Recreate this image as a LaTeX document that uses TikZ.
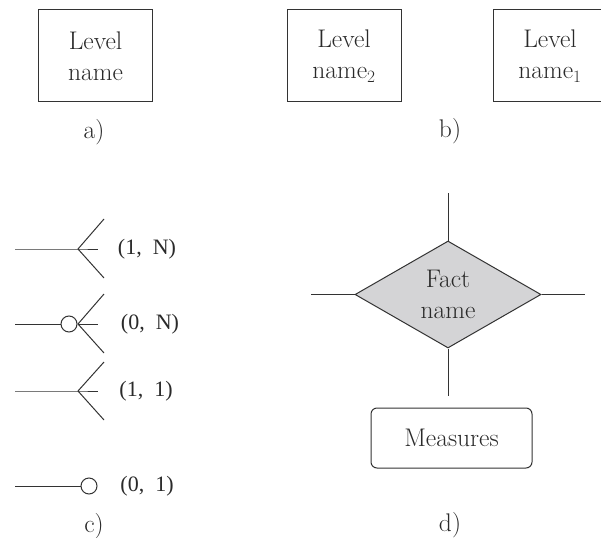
\documentclass[tikz,border=0pt]{standalone}
\usepackage{fontspec}
\usetikzlibrary{shapes.geometric}
\newfontfamily\cardfam{Liberation Serif}
\definecolor{ln}{HTML}{333333}
\definecolor{fillg}{HTML}{D4D4D6}
\definecolor{txt}{HTML}{2A2A2A}
\newcommand{\mainsz}{\fontsize{25.5}{31}\selectfont}
\newcommand{\cardsz}{\cardfam\fontsize{22}{26}\selectfont}
\begin{document}
\begin{tikzpicture}[x=1pt,y=-1pt,line width=1pt,
  lvl/.style={draw=ln, line width=1pt, minimum width=114pt, minimum height=92pt, inner sep=0pt, align=center, font=\mainsz, text=txt},
  lbl/.style={font=\mainsz, text=txt, inner sep=0pt},
  card/.style={font=\cardsz, text=txt, inner sep=0pt},
  ring/.style={circle, draw=ln, line width=1pt, minimum size=16pt, inner sep=0pt},
  wire/.style={draw=ln, line width=1pt},
  fact/.style={diamond, draw=ln, fill=fillg, line width=1pt, aspect=1.74, minimum width=186pt, minimum height=107pt, inner sep=0pt, align=center, font=\mainsz, text=txt},
  meas/.style={draw=ln, rounded corners=6pt, line width=1pt, minimum width=161pt, minimum height=60pt, inner sep=0pt, font=\mainsz, text=txt}]
\useasboundingbox (0,0) rectangle (601,537);
% a)
\node[lvl] (la) at (95.5,56) {Level\\name};
\node[lbl] (ta) at (94,132) {a)};
% b)
\node[lvl] (lb2) at (344,56) {Level\\name$_2$};
\node[lvl] (lb1) at (550,56) {Level\\name$_1$};
\node[lbl] (tb) at (450,131) {b)};
% c)
% row 1
\coordinate (r1s) at (15,249); \coordinate (r1v) at (78,249);
\coordinate (r1m) at (98,249); \coordinate (r1u) at (104,219); \coordinate (r1d) at (104,278);
\draw[wire] (r1s) -- (r1v) -- (r1m);
\draw[wire] (r1u) -- (r1v) -- (r1d);
\node[card] (c1) at (147,249) {(1,\ \ N)};
% row 2
\coordinate (r2s) at (15,324); \node[ring] (o2) at (69,324) {};
\coordinate (r2v) at (78,324);
\coordinate (r2m) at (98,324); \coordinate (r2u) at (104,294); \coordinate (r2d) at (104,353);
\draw[wire] (r2s) -- (o2.west);
\draw[wire] (r2v) -- (r2m);
\draw[wire] (r2u) -- (r2v) -- (r2d);
\node[card] (c2) at (150,324) {(0,\ \ N)};
% row 3
\coordinate (r3s) at (15,391); \coordinate (r3v) at (78,391);
\coordinate (r3m) at (98,391); \coordinate (r3u) at (104,362); \coordinate (r3d) at (104,420);
\draw[wire] (r3s) -- (r3v) -- (r3m);
\draw[wire] (r3u) -- (r3v) -- (r3d);
\node[card] (c3) at (146,391) {(1,\ \ 1)};
% row 4
\coordinate (r4s) at (15,486); \node[ring] (o4) at (89,486) {};
\draw[wire] (r4s) -- (o4.west);
\node[card] (c4) at (147,486) {(0,\ \ 1)};
\node[lbl] (tc) at (94,526) {c)};
% d)
\node[fact] (f) at (448,294.5) {Fact\\name};
\coordinate (ftop) at (448,193);
\coordinate (fbot) at (448,396);
\coordinate (fl) at (311,294.5);
\coordinate (fr) at (585,294.5);
\draw[wire] (f.north) -- (ftop);
\draw[wire] (f.south) -- (fbot);
\draw[wire] (f.west) -- (fl);
\draw[wire] (f.east) -- (fr);
\node[meas] (m) at (451.5,438) {Measures};
\node[lbl] (td) at (450,525) {d)};
\end{tikzpicture}
\end{document}
